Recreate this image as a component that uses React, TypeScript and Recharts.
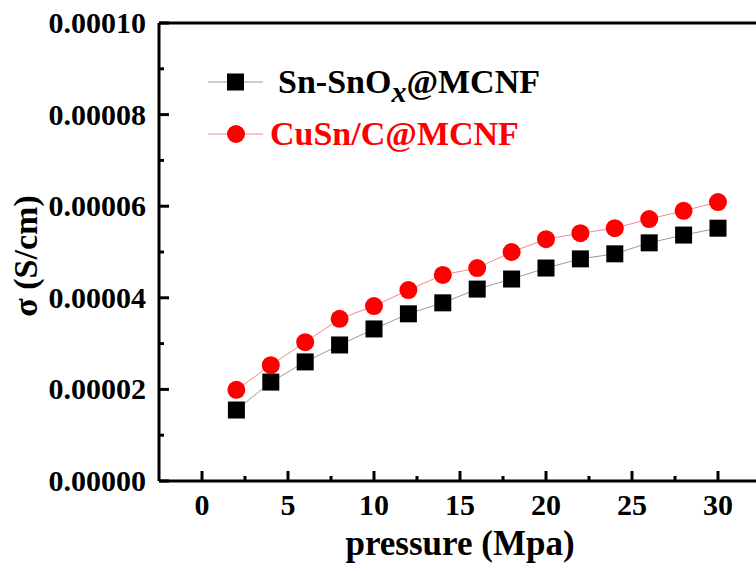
import { LineChart, Line, XAxis, YAxis, ReferenceLine, Legend } from "recharts";

const pressure = [2, 4, 6, 8, 10, 12, 14, 16, 18, 20, 22, 24, 26, 28, 30];
const snSnOx = [
  0.0000155, 0.0000216, 0.000026, 0.0000297, 0.0000332, 0.0000365, 0.0000389, 0.0000419,
  0.0000441, 0.0000465, 0.0000485, 0.0000496, 0.000052, 0.0000537, 0.0000552,
];
const cuSnC = [
  0.0000199, 0.0000253, 0.0000303, 0.0000354, 0.0000382, 0.0000417, 0.000045, 0.0000465,
  0.00005, 0.0000528, 0.0000541, 0.0000552, 0.0000572, 0.000059, 0.0000609,
];
const xTicks = [0, 2.5, 5, 7.5, 10, 12.5, 15, 17.5, 20, 22.5, 25, 27.5, 30];
const yTicks = [0, 0.00001, 0.00002, 0.00003, 0.00004, 0.00005, 0.00006, 0.00007, 0.00008, 0.00009, 0.0001];

const data = pressure.map((p, i) => ({ pressure: p, snSnOx: snSnOx[i], cuSnC: cuSnC[i] }));

const FONT = "'Liberation Serif', 'Times New Roman', serif";
const BLACK_LINE = "#9a9a9a";
const RED_LINE = "#f08a8a";

const XTick = (props: any) => {
  const { x, y, payload } = props;
  const major = payload.value % 5 === 0;
  return (
    <g>
      <line x1={x} x2={x} y1={y} y2={y - (major ? 10 : 5)} stroke="#000" strokeWidth={3} />
      {major && (
        <text x={x} y={y + 34} textAnchor="middle" fontFamily={FONT} fontWeight="bold" fontSize={30} fill="#000">
          {payload.value}
        </text>
      )}
    </g>
  );
};

const YTick = (props: any) => {
  const { x, y, payload } = props;
  const major = Math.round(payload.value * 1e5) % 2 === 0;
  return (
    <g>
      <line x1={x} x2={x + (major ? 10 : 5)} y1={y} y2={y} stroke="#000" strokeWidth={3} />
      {major && (
        <text x={x - 13} y={y + 10} textAnchor="end" fontFamily={FONT} fontWeight="bold" fontSize={30} fill="#000">
          {payload.value.toFixed(5)}
        </text>
      )}
    </g>
  );
};

const SquareDot = (props: any) => {
  const { cx, cy, index } = props;
  if (cx == null || cy == null) return null;
  return <rect key={"sq" + index} x={cx - 8.5} y={cy - 8.5} width={17} height={17} fill="#000" />;
};

const LegendBox = () => (
  <div style={{ fontFamily: FONT, fontWeight: "bold", fontSize: 34, lineHeight: "52px" }}>
    <div style={{ display: "flex", alignItems: "center", height: 52 }}>
      <svg width={60} height={52}>
        <line x1={3} x2={58} y1={26} y2={26} stroke={BLACK_LINE} strokeWidth={1} />
        <rect x={22} y={17.5} width={17} height={17} fill="#000" />
      </svg>
      <span style={{ marginLeft: 13, color: "#000" }}>
        Sn-SnO<sub style={{ fontStyle: "italic", fontSize: 30, verticalAlign: "-9px", lineHeight: 0 }}>x</sub>@MCNF
      </span>
    </div>
    <div style={{ display: "flex", alignItems: "center", height: 52 }}>
      <svg width={60} height={52}>
        <line x1={3} x2={58} y1={26} y2={26} stroke={RED_LINE} strokeWidth={1} />
        <circle cx={31} cy={26} r={9} fill="#ff0000" />
      </svg>
      <span style={{ marginLeft: 5, color: "#ff0000" }}>CuSn/C@MCNF</span>
    </div>
  </div>
);

export default function App() {
  return (
    <div style={{ position: "absolute", left: 0, top: 0, width: 756, height: 572, overflow: "hidden", background: "#fff" }}>
      <LineChart width={770} height={572} data={data} margin={{ top: 23, right: 9, left: 0, bottom: 0 }}>
        <XAxis
          dataKey="pressure"
          type="number"
          domain={[-2.5, 32.5]}
          ticks={xTicks}
          interval={0}
          tickSize={0}
          tickMargin={0}
          tickLine={false}
          tick={XTick}
          height={91}
          axisLine={{ stroke: "#000", strokeWidth: 3 }}
          allowDataOverflow
          label={{
            content: (p: any) => {
              const vb = p.viewBox;
              return (
                <text x={vb.x + vb.width / 2} y={vb.y + 74} textAnchor="middle" fontFamily={FONT} fontWeight="bold" fontSize={35} fill="#000">
                  pressure (Mpa)
                </text>
              );
            },
          }}
        />
        <YAxis
          type="number"
          domain={[0, 0.0001]}
          ticks={yTicks}
          interval={0}
          width={159}
          tickSize={0}
          tickMargin={0}
          tickLine={false}
          tick={YTick}
          axisLine={{ stroke: "#000", strokeWidth: 3 }}
          allowDataOverflow
          label={{
            content: (p: any) => {
              const vb = p.viewBox;
              const cx = vb.x + 37;
              const cy = vb.y + vb.height / 2 + 4;
              return (
                <text x={cx} y={cy} transform={`rotate(-90, ${cx}, ${cy})`} textAnchor="middle" fontFamily={FONT} fontWeight="bold" fontSize={34} fill="#000">
                  σ (S/cm)
                </text>
              );
            },
          }}
        />
        <ReferenceLine y={0.0001} stroke="#000" strokeWidth={3} ifOverflow="visible" />
        <ReferenceLine x={32.5} stroke="#000" strokeWidth={3} ifOverflow="visible" />
        <Legend
          layout="vertical"
          align="center"
          verticalAlign="middle"
          content={LegendBox}
          wrapperStyle={{ top: 56, left: 205, width: 400 }}
        />
        <Line
          dataKey="snSnOx"
          name="Sn-SnOx@MCNF"
          stroke={BLACK_LINE}
          strokeWidth={1}
          dot={SquareDot}
          activeDot={false}
          isAnimationActive={false}
        />
        <Line
          dataKey="cuSnC"
          name="CuSn/C@MCNF"
          stroke={RED_LINE}
          strokeWidth={1}
          dot={{ r: 9, fill: "#ff0000", stroke: "none" }}
          activeDot={false}
          isAnimationActive={false}
        />
      </LineChart>
    </div>
  );
}
